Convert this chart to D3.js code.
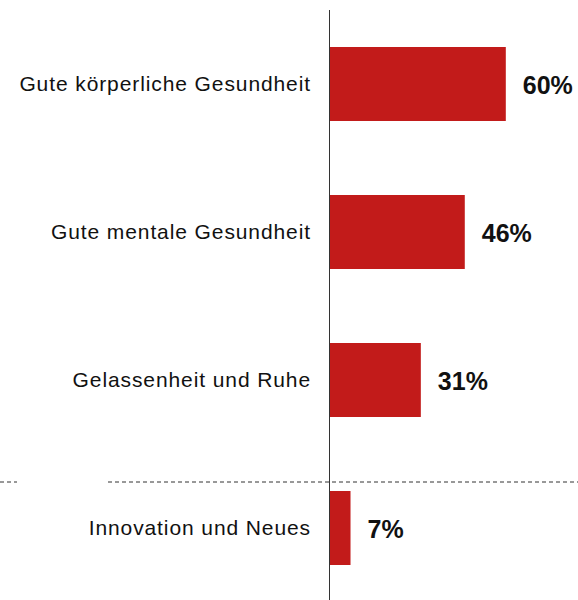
<!DOCTYPE html>
<html>
<head>
<meta charset="utf-8">
<script src="https://cdn.jsdelivr.net/npm/d3@7"></script>
<style>
  body { margin: 0; background: #fff; }
  .cat-label { font-family: "Liberation Sans", Arial, sans-serif; font-size: 21px; letter-spacing: 0.9px; fill: #111; }
  .val-label { font-family: "Liberation Sans", Arial, sans-serif; font-size: 25px; font-weight: bold; fill: #111; }
</style>
</head>
<body>
<div id="chart"></div>
<script>
// Chart data
const categories = ['Gute körperliche Gesundheit', 'Gute mentale Gesundheit', 'Gelassenheit und Ruhe', 'Innovation und Neues'];
const values = [60, 46, 31, 7];
const valueLabels = ['60%', '46%', '31%', '7%'];

const width = 578;
const height = 600;

const svg = d3.select('#chart')
    .append('svg')
    .attr('width', width)
    .attr('height', height);

const x = d3.scaleLinear()
    .domain([0, 100])
    .range([330, 623]);

const y = d3.scaleBand()
    .domain(categories)
    .range([10, 602])
    .paddingInner(0.5)
    .paddingOuter(0.25);

// Bars
svg.selectAll('rect.bar')
    .data(categories)
    .enter()
    .append('rect')
    .attr('class', 'bar')
    .attr('x', x(0))
    .attr('y', d => y(d))
    .attr('width', (d, i) => x(values[i]) - x(0))
    .attr('height', y.bandwidth())
    .style('fill', '#c21b1a');

// Category labels
svg.selectAll('text.cat-label')
    .data(categories)
    .enter()
    .append('text')
    .attr('class', 'cat-label')
    .attr('x', 311)
    .attr('y', d => y(d) + y.bandwidth() / 2 + 7)
    .attr('text-anchor', 'end')
    .text(d => d);

// Value labels
svg.selectAll('text.val-label')
    .data(categories)
    .enter()
    .append('text')
    .attr('class', 'val-label')
    .attr('x', (d, i) => x(values[i]) + 17)
    .attr('y', d => y(d) + y.bandwidth() / 2 + 10)
    .text((d, i) => valueLabels[i]);

// Separator before the last category
const sepY = y(categories[3]) - 9;
svg.append('line')
    .attr('x1', 0).attr('x2', 17)
    .attr('y1', sepY).attr('y2', sepY)
    .style('stroke', '#333')
    .style('stroke-dasharray', '4,3');
svg.append('line')
    .attr('x1', 108).attr('x2', width)
    .attr('y1', sepY).attr('y2', sepY)
    .style('stroke', '#333')
    .style('stroke-dasharray', '4,3');

// Axis line
svg.append('line')
    .attr('x1', 329.5).attr('x2', 329.5)
    .attr('y1', 10).attr('y2', height)
    .style('stroke', '#333')
    .style('stroke-width', 1);
</script>
</body>
</html>
